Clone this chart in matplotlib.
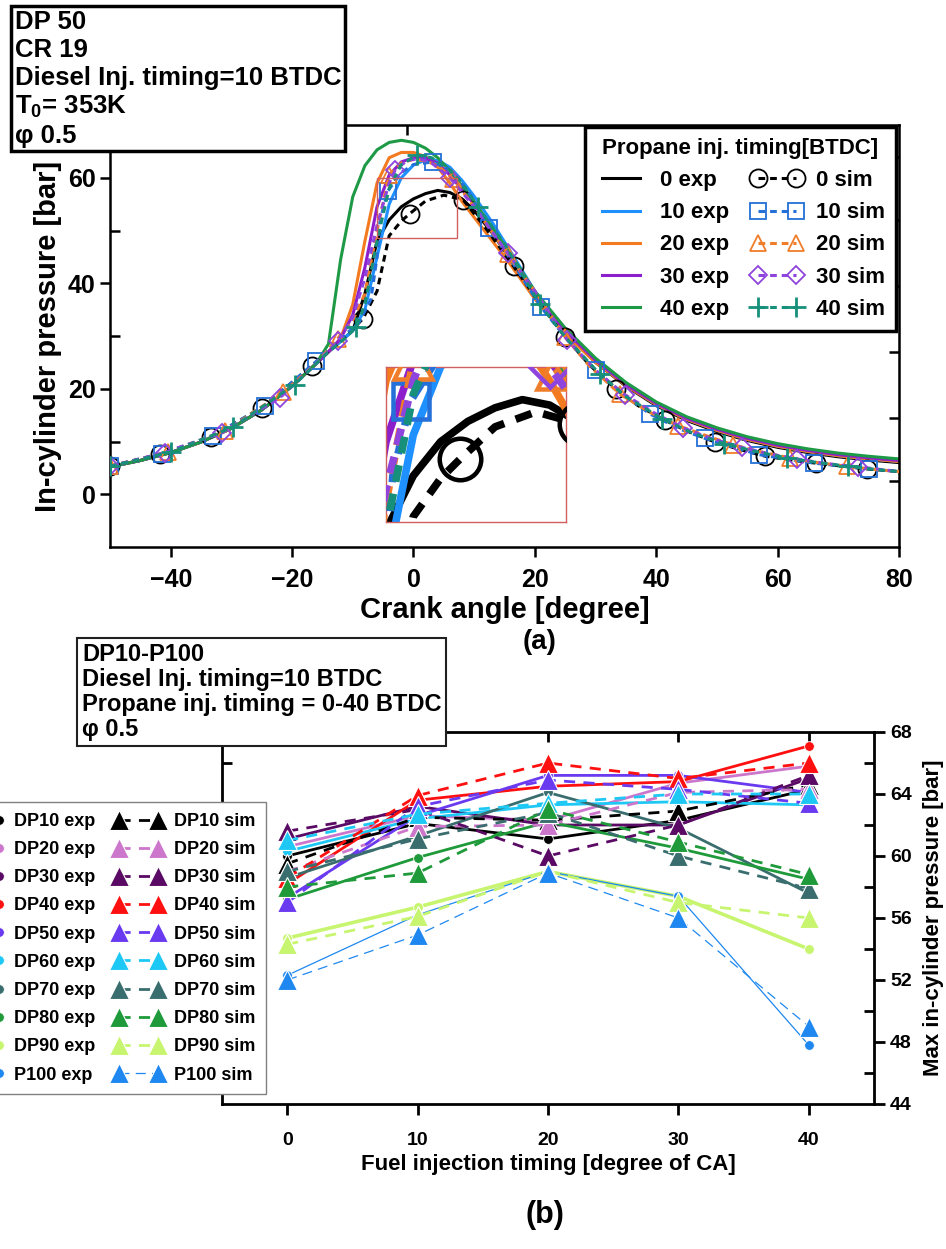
import matplotlib.pyplot as plt
from matplotlib.patches import Rectangle

plt.rcParams['font.family'] = ['Liberation Sans', 'DejaVu Sans']
plt.rcParams['font.weight'] = 'bold'
plt.rcParams['mathtext.fontset'] = 'custom'
plt.rcParams['mathtext.rm'] = 'Liberation Sans:bold'
plt.rcParams['mathtext.default'] = 'rm'

# ---------------- (a) in-cylinder pressure traces ----------------
ca_exp = [-50, -45, -40, -35, -30, -25, -20, -16, -14, -12, -10, -8, -6, -4, -2, 0, 2, 4,
          6, 8, 10, 13, 16, 20, 25, 30, 35, 40, 45, 50, 55, 60, 65, 70, 75, 80]
p_exp_0 = [5.2, 6.4, 7.9, 9.9, 12.5, 16.0, 20.5, 24.8, 27.0, 29.0, 31.0, 38.0, 48.0, 52.0, 54.5, 56.0, 57.0, 57.6,
           57.2, 56.0, 53.8, 49.5, 44.5, 38.0, 30.8, 25.0, 20.5, 16.8, 14.0, 11.9, 10.2, 8.9, 7.9, 7.1, 6.5, 6.0]
p_exp_10 = [5.2, 6.4, 7.9, 9.9, 12.5, 16.0, 20.5, 24.8, 27.0, 29.0, 31.0, 35.0, 45.0, 55.0, 60.0, 62.4, 63.4, 63.3,
            62.0, 59.5, 56.5, 51.5, 46.0, 38.5, 31.0, 25.2, 20.7, 17.0, 14.2, 12.1, 10.4, 9.1, 8.1, 7.3, 6.7, 6.2]
p_exp_20 = [5.2, 6.4, 7.9, 9.9, 12.5, 16.0, 20.5, 24.8, 27.0, 29.5, 36.0, 48.0, 59.0, 63.8, 64.8, 64.8, 64.0, 62.0,
            59.0, 55.5, 52.5, 48.0, 43.5, 37.0, 30.3, 25.0, 20.6, 17.0, 14.2, 12.1, 10.4, 9.1, 8.1, 7.3, 6.7, 6.2]
p_exp_30 = [5.2, 6.4, 7.9, 9.9, 12.5, 16.0, 20.5, 24.8, 27.0, 29.5, 34.0, 43.0, 54.5, 60.5, 63.0, 63.8, 63.7, 62.8,
            60.5, 57.8, 55.0, 50.0, 45.0, 38.0, 31.0, 25.4, 20.8, 17.2, 14.4, 12.3, 10.6, 9.3, 8.3, 7.5, 6.9, 6.4]
p_exp_40 = [5.2, 6.4, 7.9, 9.9, 12.5, 16.0, 20.5, 24.8, 28.5, 44.5, 56.4, 62.3, 65.3, 66.7, 67.1, 66.7, 65.6, 63.8,
            61.3, 58.5, 55.5, 50.5, 45.5, 38.5, 31.5, 25.8, 21.2, 17.5, 14.7, 12.6, 10.9, 9.6, 8.6, 7.8, 7.2, 6.7]

ca_sim_0 = [-50, -41.7, -33.3, -25, -16.7, -12, -8.3, -6, -4, -2, -0.6, 2, 5, 8.2, 12, 16.5, 20, 25, 29, 33.3,
            37, 41.5, 45, 49.7, 54, 58, 62, 66.3, 70, 74.7, 80]
p_sim_0 = [5.3, 7.6, 10.9, 16.4, 24.4, 29.0, 33.3, 38.5, 49.0, 51.8, 53.2, 55.6, 56.7, 55.8, 50.3, 43.2, 37.5, 29.8,
           24.5, 20.0, 16.8, 14.0, 12.0, 9.9, 8.4, 7.2, 6.5, 5.9, 5.4, 4.8, 4.3]
mk_sim_0 = [-50, -41.7, -33.3, -25, -16.7, -8.3, -0.6, 8.2, 16.5, 25, 33.3, 41.5, 49.7, 58, 66.3, 74.7]

ca_sim_10 = [-50, -41.5, -33, -24.5, -16, -12, -9, -7, -6, -5.5, -4.2, -2, 0, 3.2, 6, 9, 12.4, 16, 21, 25, 30,
             35, 39, 44, 48, 53, 57, 62, 66, 70, 75, 80]
p_sim_10 = [5.3, 7.7, 11.1, 16.8, 25.2, 29.5, 32.5, 37.0, 45.0, 52.0, 57.5, 61.0, 62.5, 63.0, 61.5, 57.5, 50.5,
            44.5, 35.5, 29.8, 23.5, 18.5, 15.2, 12.3, 10.6, 8.8, 7.5, 6.6, 5.9, 5.4, 4.8, 4.3]
mk_sim_10 = [-50, -41.5, -33, -24.5, -16, -4.2, 3.2, 12.4, 21, 30, 39, 48, 57, 66, 75]

ca_sim_20 = [-50, -40.5, -31, -21.5, -16, -12.5, -10, -8, -6, -4, -2, 0, 2, 4, 6.5, 10, 15.5, 20, 25, 29, 34,
             39, 43.6, 48, 52.6, 57, 62, 66, 71.4, 76, 80]
p_sim_20 = [5.3, 8.0, 12.0, 19.3, 24.8, 29.5, 33.0, 38.0, 50.0, 60.5, 62.8, 63.5, 63.2, 62.3, 59.8, 54.5, 45.5,
            38.5, 29.8, 24.3, 19.0, 15.5, 13.0, 11.2, 9.4, 8.1, 6.9, 6.1, 5.3, 4.7, 4.3]
mk_sim_20 = [-50, -40.5, -31, -21.5, -12.5, -4, 6.5, 15.5, 25, 34, 43.6, 52.6, 62, 71.4]

ca_sim_30 = [-50, -41, -31.5, -22, -16, -12.5, -10, -8, -6, -4, -3, -1, 1, 3, 6, 10, 15.5, 20, 25.3, 30, 34.8,
             40, 44.4, 49, 54.1, 58, 63.2, 68, 73.2, 80]
p_sim_30 = [5.3, 7.9, 11.7, 18.3, 24.8, 29.0, 33.5, 41.0, 51.0, 59.0, 61.5, 63.3, 63.6, 62.8, 60.0, 54.5, 45.8,
            38.5, 29.3, 23.5, 18.9, 15.2, 12.6, 10.6, 8.9, 7.8, 6.7, 5.8, 5.2, 4.3]
mk_sim_30 = [-50, -41, -31.5, -22, -12.5, -3, 6, 15.5, 25.3, 34.8, 44.4, 54.1, 63.2, 73.2]

ca_sim_40 = [-50, -40, -29.8, -19.6, -14, -11, -9.4, -8, -6, -4, -2, 0.6, 3, 6, 8, 10.6, 15, 20.8, 25, 30.7,
             35, 41, 46, 51.2, 56, 61.5, 66, 71.6, 76, 80]
p_sim_40 = [5.3, 8.0, 12.7, 20.8, 27.0, 29.8, 31.8, 36.0, 48.0, 58.0, 62.5, 64.3, 63.8, 61.5, 59.0, 54.5, 47.5,
            36.0, 29.8, 22.8, 18.5, 14.3, 11.6, 9.6, 8.2, 6.9, 6.1, 5.3, 4.7, 4.3]
mk_sim_40 = [-50, -40, -29.8, -19.6, -9.4, 0.6, 10.6, 20.8, 30.7, 41, 51.2, 61.5, 71.6]

timing_a = [0, 10, 20, 30, 40]
exp_colors = ['#000000', '#1E90FF', '#F47A1F', '#8C1ECB', '#1E9A46']
sim_colors = ['#000000', '#2470D8', '#F07D2A', '#8E44DD', '#16907A']
sim_markers = ['o', 's', '^', 'D', '+']
sim_msize = [13, 11, 12, 9, 14]

# ---------------- (b) peak pressure vs injection timing ----------------
inj_timing = [0, 10, 20, 30, 40]
blend = ['DP10', 'DP20', 'DP30', 'DP40', 'DP50', 'DP60', 'DP70', 'DP80', 'DP90', 'P100']
pmax_exp_DP10 = [60.0, 62.1, 61.1, 62.3, 64.3]
pmax_exp_DP20 = [60.6, 62.6, 62.3, 64.7, 65.8]
pmax_exp_DP30 = [61.1, 63.2, 62.0, 62.0, 65.0]
pmax_exp_DP40 = [58.2, 63.6, 64.5, 64.8, 67.1]
pmax_exp_DP50 = [57.3, 62.6, 65.2, 65.2, 64.1]
pmax_exp_DP60 = [60.3, 62.4, 63.3, 63.5, 63.3]
pmax_exp_DP70 = [58.6, 61.3, 64.1, 61.8, 57.6]
pmax_exp_DP80 = [57.2, 59.9, 62.2, 60.5, 58.5]
pmax_exp_DP90 = [54.7, 56.7, 59.0, 57.4, 54.0]
pmax_exp_P100 = [52.3, 56.2, 59.0, 57.4, 47.8]
pmax_sim_DP10 = [59.5, 62.5, 62.3, 62.9, 64.6]
pmax_sim_DP20 = [59.0, 61.9, 62.0, 64.1, 64.3]
pmax_sim_DP30 = [61.6, 63.0, 60.0, 62.0, 65.2]
pmax_sim_DP40 = [58.6, 63.9, 66.0, 65.0, 66.0]
pmax_sim_DP50 = [57.0, 63.2, 64.9, 64.3, 63.4]
pmax_sim_DP60 = [61.0, 62.7, 63.4, 64.0, 64.0]
pmax_sim_DP70 = [59.0, 61.1, 62.8, 60.0, 57.9]
pmax_sim_DP80 = [58.0, 58.9, 63.0, 60.9, 58.8]
pmax_sim_DP90 = [54.3, 56.1, 59.0, 57.0, 56.0]
pmax_sim_P100 = [52.0, 54.9, 58.9, 56.0, 49.0]
blend_colors = ['#000000', '#CC77CC', '#5A0A64', '#FF1010', '#6A3AF0',
                '#1EC8F5', '#3A6E6E', '#1E9A3A', '#C8F570', '#1E88F0']

pmax_exp = [pmax_exp_DP10, pmax_exp_DP20, pmax_exp_DP30, pmax_exp_DP40, pmax_exp_DP50,
            pmax_exp_DP60, pmax_exp_DP70, pmax_exp_DP80, pmax_exp_DP90, pmax_exp_P100]
pmax_sim = [pmax_sim_DP10, pmax_sim_DP20, pmax_sim_DP30, pmax_sim_DP40, pmax_sim_DP50,
            pmax_sim_DP60, pmax_sim_DP70, pmax_sim_DP80, pmax_sim_DP90, pmax_sim_P100]

W, H = 946, 1249
fig = plt.figure(figsize=(W / 100, H / 100), dpi=100)


def fbox(x0, y0, x1, y1):
    # pixel box (top-left origin) -> figure fraction rect
    return [x0 / W, 1 - y1 / H, (x1 - x0) / W, (y1 - y0) / H]


def draw_traces(ax, lw=2.2, ms=1.0):
    exps = [p_exp_0, p_exp_10, p_exp_20, p_exp_30, p_exp_40]
    sims = [(ca_sim_0, p_sim_0, mk_sim_0), (ca_sim_10, p_sim_10, mk_sim_10), (ca_sim_20, p_sim_20, mk_sim_20),
            (ca_sim_30, p_sim_30, mk_sim_30), (ca_sim_40, p_sim_40, mk_sim_40)]
    hs_e, hs_s = [], []
    for t, p, c in zip(timing_a, exps, exp_colors):
        h, = ax.plot(ca_exp, p, color=c, lw=lw, label=f'{t} exp', zorder=2)
        hs_e.append(h)
    for t, (ca, p, mk), c, m, s in zip(timing_a, sims, sim_colors, sim_markers, sim_msize):
        idx = [ca.index(a) for a in mk]
        h, = ax.plot(ca, p, ls=(0, (2.2, 1.6)), color=c, lw=lw, marker=m, ms=s * ms, mfc='none', mec=c,
                     mew=1.3 * lw / 2.2 if m != '+' else 2.0 * lw / 2.2, markevery=idx,
                     label=f'{t} sim', zorder=3)
        hs_s.append(h)
    return hs_e, hs_s


# ---- panel (a)
ax1 = fig.add_axes(fbox(110, 125, 899, 547))
hs_e, hs_s = draw_traces(ax1)
ax1.set_xlim(-50, 80)
ax1.set_ylim(-10, 70)
ax1.set_xticks([-40, -20, 0, 20, 40, 60, 80])
ax1.set_yticks([0, 20, 40, 60])
ax1.set_yticks([10, 30, 50], minor=True)
ax1.tick_params(which='major', direction='out', length=7, width=1.8, labelsize=18)
ax1.tick_params(axis='x', pad=8)
ax1.tick_params(which='minor', direction='in', length=7, width=1.8)
for lab in ax1.get_xticklabels() + ax1.get_yticklabels():
    lab.set_fontweight('bold')
for sp in ax1.spines.values():
    sp.set_linewidth(1.8)
ax1.set_xlabel('Crank angle [degree]', fontsize=21, fontweight='bold', labelpad=3)
ax1.set_ylabel('In-cylinder pressure [bar]', fontsize=21, fontweight='bold', labelpad=4)
sx = ax1.secondary_xaxis('top')
sx.set_xticks([-33.5, -1, 31.5, 64])
sx.tick_params(direction='in', length=7, width=1.8, labeltop=False)
sy = ax1.secondary_yaxis('right')
sy.set_yticks([2.5, 14.5, 27, 39.5, 52, 64])
sy.tick_params(direction='in', length=7, width=1.8, labelright=False)

ax1.add_patch(Rectangle((-6, 48.6), 13.2, 11.4, fill=False, ec='#D06060', lw=1.0, zorder=4))

leg1 = ax1.legend(hs_e + hs_s, [h.get_label() for h in hs_e + hs_s], ncol=2, numpoints=2,
                  loc='upper right', bbox_to_anchor=(896 / W, 1 - 127 / H), bbox_transform=fig.transFigure,
                  borderaxespad=0, title='Propane inj. timing[BTDC]', fontsize=16, title_fontsize=16,
                  handlelength=2.3, handletextpad=0.6, columnspacing=1.0, labelspacing=0.5,
                  borderpad=0.5, fancybox=False, framealpha=1, edgecolor='black')
leg1.get_frame().set_linewidth(2.5)
leg1.get_title().set_fontweight('bold')
leg1.set_zorder(10)

# inset
axi = fig.add_axes(fbox(386, 367, 566, 522))
draw_traces(axi, lw=5.5, ms=2.3)
axi.set_xlim(-6, 7.2)
axi.set_ylim(48.6, 60)
axi.set_xticks([])
axi.set_yticks([])
for sp in axi.spines.values():
    sp.set_color('#D06060')
    sp.set_linewidth(1.0)

fig.text(15 / W, 1 - 10 / H, 'DP 50\nCR 19\nDiesel Inj. timing=10 BTDC\nT$_0$= 353K\nφ 0.5',
         ha='left', va='top', fontsize=18.5, fontweight='bold', linespacing=1.2,
         bbox=dict(boxstyle='square,pad=0.15', fc='white', ec='black', lw=2.5))
fig.text(540 / W, 1 - 642 / H, '(a)', ha='center', va='center', fontsize=20, fontweight='bold')

# ---- panel (b)
ax2 = fig.add_axes(fbox(222, 732, 874, 1104))
hb_e, hb_s = [], []
for name, pe, ps, c in zip(blend, pmax_exp, pmax_sim, blend_colors):
    thin = name == 'P100'
    lwe = 0.9 if thin else (2.6 if name == 'DP90' else 2.0)
    lws = 0.9 if thin else 2.0
    h, = ax2.plot(inj_timing, pe, color=c, lw=lwe, marker='o', ms=7, mec='white', mew=0.6,
                  label=f'{name} exp', zorder=2)
    hb_e.append(h)
    h, = ax2.plot(inj_timing, ps, color=c, lw=lws, ls=(0, (4, 3)) if not thin else (0, (8, 5)),
                  marker='^', ms=14, mec='white', mew=0.8, label=f'{name} sim', zorder=3)
    hb_s.append(h)
ax2.set_xlim(-5, 45)
ax2.set_ylim(44, 68)
ax2.set_xticks(inj_timing)
ax2.yaxis.tick_right()
ax2.yaxis.set_label_position('right')
ax2.set_yticks(range(44, 69, 4))
ax2.set_yticks(range(46, 67, 4), minor=True)
ax2.tick_params(which='major', direction='out', length=8, width=2.0, labelsize=14)
ax2.tick_params(axis='x', pad=12)
ax2.tick_params(which='minor', direction='in', length=7, width=2.0, left=True, right=True)
for lab in ax2.get_xticklabels() + ax2.get_yticklabels():
    lab.set_fontweight('bold')
for sp in ax2.spines.values():
    sp.set_linewidth(2.0)
ax2.set_xlabel('Fuel injection timing [degree of CA]', fontsize=16, fontweight='bold', labelpad=4)
ax2.set_ylabel('Max in-cylinder pressure [bar]', fontsize=16, fontweight='bold', labelpad=8)
sx2 = ax2.secondary_xaxis('top')
sx2.set_xticks(inj_timing)
sx2.tick_params(direction='in', length=7, width=2.0, labeltop=False)

leg2 = ax2.legend(hb_e + hb_s, [h.get_label() for h in hb_e + hb_s], ncol=2, numpoints=2,
                  loc='upper right', bbox_to_anchor=(266 / W, 1 - 802 / H), bbox_transform=fig.transFigure,
                  borderaxespad=0, prop=dict(size=13, weight='bold'),
                  handlelength=2.8, handletextpad=0.55, columnspacing=1.0, labelspacing=0.62,
                  borderpad=0.6, fancybox=False, framealpha=1, edgecolor='#808080')
leg2.get_frame().set_linewidth(1.0)
leg2.set_zorder(10)

fig.text(82 / W, 1 - 643 / H, 'DP10-P100\nDiesel Inj. timing=10 BTDC\nPropane inj. timing = 0-40 BTDC\nφ 0.5',
         ha='left', va='top', fontsize=17, fontweight='bold', linespacing=1.12,
         bbox=dict(boxstyle='square,pad=0.2', fc='white', ec='#202020', lw=1.5))
fig.text(545 / W, 1 - 1215 / H, '(b)', ha='center', va='center', fontsize=22, fontweight='bold')

fig.savefig('out.png', dpi=100)
